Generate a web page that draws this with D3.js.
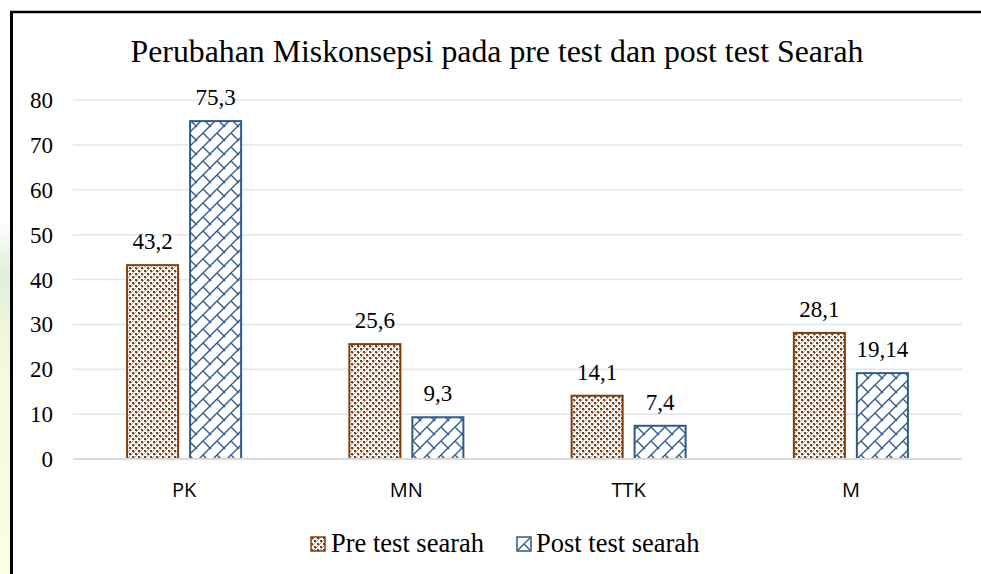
<!DOCTYPE html>
<meta charset="utf-8">
<script src="https://d3js.org/d3.v7.min.js"></script>
<style>
body { margin: 0; background: #fff; }
svg { display: block; }
</style>
<svg id="chart" width="981" height="574"></svg>
<script>
// data
var categories = ["PK", "MN", "TTK", "M"];
var series = ["Pre test searah", "Post test searah"];
var preValues = [43.2, 25.6, 14.1, 28.1];
var postValues = [75.3, 9.3, 7.4, 19.14];
var valueLabels = [["43,2", "25,6", "14,1", "28,1"], ["75,3", "9,3", "7,4", "19,14"]];
var yTicks = [0, 10, 20, 30, 40, 50, 60, 70, 80];
var title = "Perubahan Miskonsepsi pada pre test dan post test Searah";

var brown = "#843c0c", blue = "#2e5b8c";

var svg = d3.select("#chart");
var defs = svg.append("defs");

// left page strip
var grad = defs.append("linearGradient").attr("id", "strip")
    .attr("x1", 0).attr("y1", 0).attr("x2", 0).attr("y2", 1);
grad.append("stop").attr("offset", "0%").attr("stop-color", "#ffffff");
grad.append("stop").attr("offset", "38%").attr("stop-color", "#ffffff");
grad.append("stop").attr("offset", "48%").attr("stop-color", "#dff0d8");
grad.append("stop").attr("offset", "60%").attr("stop-color", "#f3f8dc");
grad.append("stop").attr("offset", "100%").attr("stop-color", "#fdfde2");
svg.append("rect").attr("x", 0).attr("y", 0).attr("width", 10).attr("height", 574)
    .attr("fill", "url(#strip)");

// checker pattern for pre test
var p1 = defs.append("pattern").attr("id", "checker")
    .attr("patternUnits", "userSpaceOnUse").attr("width", 6).attr("height", 6);
p1.append("rect").attr("width", 6).attr("height", 6).attr("fill", "#fff");
[[0, 0, 2, 2], [3, 3, 2, 2]].forEach(function(r) {
  p1.append("rect").attr("x", r[0]).attr("y", r[1]).attr("width", r[2]).attr("height", r[3]).attr("fill", brown);
});
[[2, 1], [1, 2], [5, 4], [4, 5], [3, 0], [0, 3]].forEach(function(r) {
  p1.append("rect").attr("x", r[0]).attr("y", r[1]).attr("width", 1).attr("height", 1).attr("fill", "#c4906c");
});

// diagonal brick pattern for post test
var p2 = defs.append("pattern").attr("id", "brick")
    .attr("patternUnits", "userSpaceOnUse").attr("width", 14).attr("height", 14);
p2.append("rect").attr("width", 14).attr("height", 14).attr("fill", "#fff");
p2.append("path")
    .attr("d", "M0,14L14,0M-2,2L2,-2M12,16L16,12M7,7L14,14M0,0L1,1")
    .attr("stroke", blue).attr("stroke-width", 1.4).attr("fill", "none");

// frame lines
svg.append("line").attr("x1", 11.5).attr("x2", 11.5).attr("y1", 11).attr("y2", 574)
    .attr("stroke", "#000").attr("stroke-width", 3);
svg.append("line").attr("x1", 10).attr("x2", 981).attr("y1", 12).attr("y2", 12)
    .attr("stroke", "#000").attr("stroke-width", 2.5);

var plotLeft = 73, plotRight = 962, plotTop = 100, plotBottom = 459;

var y = d3.scaleLinear().domain([0, 80]).range([plotBottom, plotTop]);
var x0 = d3.scaleBand().domain(categories).range([plotLeft, plotRight])
    .paddingInner(0.487).paddingOuter(0.2435);
var x1 = d3.scaleBand().domain(series).range([0, x0.bandwidth()]).paddingInner(0.19);

// gridlines
svg.append("g").selectAll("line")
  .data(yTicks.filter(function(d) { return d > 0; }))
  .enter().append("line")
    .attr("x1", plotLeft).attr("x2", plotRight)
    .attr("y1", function(d) { return y(d); })
    .attr("y2", function(d) { return y(d); })
    .attr("stroke", "#dde7f4").attr("stroke-width", 1.5);

// y tick labels
svg.append("g").selectAll("text")
  .data(yTicks)
  .enter().append("text")
    .attr("x", 53)
    .attr("y", function(d) { return y(d) + 8; })
    .attr("text-anchor", "end")
    .style("font-family", "Liberation Serif")
    .style("font-size", "23px")
    .text(function(d) { return d; });

// bars
var data = [preValues, postValues];
var fills = ["url(#checker)", "url(#brick)"];
var strokes = [brown, blue];
series.forEach(function(s, si) {
  var g = svg.append("g");
  g.selectAll("rect")
    .data(data[si])
    .enter().append("rect")
      .attr("x", function(d, i) { return x0(categories[i]) + x1(s); })
      .attr("y", function(d) { return y(d); })
      .attr("width", x1.bandwidth())
      .attr("height", function(d) { return y(0) - y(d); })
      .attr("fill", fills[si])
      .attr("stroke", strokes[si])
      .attr("stroke-width", 2);
  g.selectAll("text")
    .data(data[si])
    .enter().append("text")
      .attr("x", function(d, i) { return x0(categories[i]) + x1(s) + x1.bandwidth() / 2; })
      .attr("y", function(d) { return y(d) - 16; })
      .attr("text-anchor", "middle")
      .style("font-family", "Liberation Serif")
      .style("font-size", "23px")
      .text(function(d, i) { return valueLabels[si][i]; });
});

// baseline
svg.append("line").attr("x1", plotLeft).attr("x2", plotRight).attr("y1", plotBottom).attr("y2", plotBottom)
    .attr("stroke", "#d9d9d9").attr("stroke-width", 2);

// category labels
svg.append("g").selectAll("text")
  .data(categories)
  .enter().append("text")
    .attr("x", function(d) { return x0(d) + x0.bandwidth() / 2; })
    .attr("y", 497)
    .attr("text-anchor", "middle")
    .style("font-family", "Open Sans")
    .style("font-size", "20px")
    .text(function(d) { return d; });

// title
svg.append("text")
    .attr("x", 497).attr("y", 62)
    .attr("text-anchor", "middle")
    .style("font-family", "Liberation Serif")
    .style("font-size", "31.8px")
    .text(title);

// legend
var legendX = [311, 517];
var legend = svg.append("g").selectAll("g")
  .data(series)
  .enter().append("g")
    .attr("transform", function(d, i) { return "translate(" + legendX[i] + ",537)"; });
legend.append("rect")
    .attr("width", 14).attr("height", 14)
    .attr("fill", function(d, i) { return fills[i]; })
    .attr("stroke", function(d, i) { return strokes[i]; })
    .attr("stroke-width", 1.5);
legend.append("text")
    .attr("x", function(d, i) { return i === 0 ? 20 : 19; })
    .attr("y", 15)
    .style("font-family", "Liberation Serif")
    .style("font-size", "26.5px")
    .text(function(d) { return d; });
</script>
